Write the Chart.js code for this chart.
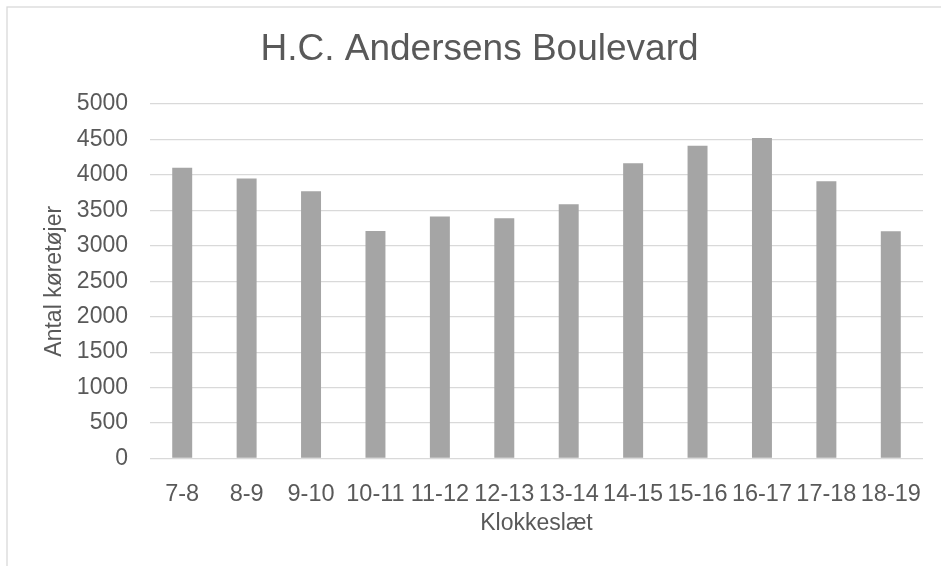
<!DOCTYPE html>
<html>
<head>
<meta charset="utf-8">
<script src="https://cdn.jsdelivr.net/npm/chart.js@4/dist/chart.umd.min.js"></script>
<style>
  html, body { margin: 0; padding: 0; background: #fff; overflow: hidden; }
  #wrap { width: 941px; height: 566px; position: relative; }
</style>
</head>
<body>
<div id="wrap"><canvas id="chart"></canvas></div>
<script>
const hours = ['7-8', '8-9', '9-10', '10-11', '11-12', '12-13', '13-14', '14-15', '15-16', '16-17', '17-18', '18-19'];
const vehicles = [4100, 3950, 3770, 3210, 3415, 3390, 3585, 4165, 4410, 4520, 3910, 3205];
const yTicks = [0, 5000, 500]; // min, max, step

const textColor = '#595959';
const gridColor = '#d9d9d9';
const fontFamily = '"Liberation Sans", Arial, sans-serif';

// light frame round the chart, like the Excel chart box
const frame = {
  id: 'frame',
  beforeDraw(chart) {
    const c = chart.ctx;
    c.save();
    c.fillStyle = '#fff';
    c.fillRect(0, 0, chart.width, chart.height);
    c.strokeStyle = gridColor;
    c.lineWidth = 1.3;
    c.strokeRect(7, 7, 2000, 2000);
    c.restore();
  }
};

const ctx = document.getElementById('chart').getContext('2d');
new Chart(ctx, {
  type: 'bar',
  data: {
    labels: hours,
    datasets: [{
      data: vehicles,
      backgroundColor: '#a5a5a5',
      borderWidth: 0,
      barPercentage: 0.31,
      categoryPercentage: 1,
    }],
  },
  options: {
    responsive: true,
    maintainAspectRatio: false,
    animation: false,
    layout: { padding: { left: 36, right: 18, top: 0, bottom: 0 } },
    plugins: {
      legend: { display: false },
      tooltip: { enabled: false },
      title: {
        display: true,
        text: 'H.C. Andersens Boulevard',
        color: textColor,
        font: { family: fontFamily, size: 37, weight: 'normal' },
        padding: { top: 27.7, bottom: 31.9 },
      },
    },
    scales: {
      x: {
        grid: { display: false },
        border: { display: false },
        ticks: {
          color: textColor,
          font: { family: fontFamily, size: 23.5 },
          padding: 14,
          maxRotation: 0,
          autoSkip: false,
        },
        title: {
          display: true,
          text: 'Klokkeslæt',
          color: textColor,
          font: { family: fontFamily, size: 23 },
          padding: { top: 0, bottom: 28.5 },
        },
        afterFit(scale) { scale.height = 566 - 458.5; },
      },
      y: {
        min: yTicks[0],
        max: yTicks[1],
        grid: { color: gridColor, lineWidth: 1.3, drawTicks: false },
        border: { display: false },
        ticks: {
          stepSize: yTicks[2],
          color: textColor,
          font: { family: fontFamily, size: 23 },
          padding: 22,
          callback: v => String(v),
        },
        title: {
          display: true,
          text: 'Antal køretøjer',
          color: textColor,
          font: { family: fontFamily, size: 23 },
          padding: { top: 5, bottom: 0 },
        },
        afterFit(scale) { scale.width = 114; },
      },
    },
  },
  plugins: [frame],
});
</script>
</body>
</html>
